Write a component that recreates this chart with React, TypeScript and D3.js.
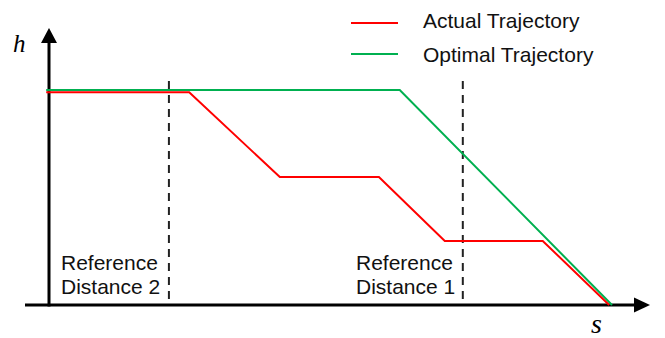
import React from "react";
import * as d3 from "d3";

const W = 665;
const H = 338;

// trajectory data (s, h) in arbitrary units
const actualS = [-0.05, 2.49, 4.1, 5.86, 7.03, 8.77, 9.95];
const actualH = [9.9, 9.9, 5.95, 5.95, 2.98, 2.98, 0];
const optimalS = [-0.05, 6.23, 10];
const optimalH = [10, 10, 0];
const refDistances = [2.13, 7.35];
const refLabels = [["Reference", "Distance 2"], ["Reference", "Distance 1"]];
const legendLabels = ["Actual Trajectory", "Optimal Trajectory"];
const seriesColors = ["#ff0000", "#00b050"];

export default function App() {
  const x = d3.scaleLinear().domain([0, 10]).range([49, 612]);
  const y = d3.scaleLinear().domain([0, 10]).range([305, 90]);
  const line = d3
    .line<[number, number]>()
    .x((d) => x(d[0]))
    .y((d) => y(d[1]));
  const actual = actualS.map((s, i) => [s, actualH[i]] as [number, number]);
  const optimal = optimalS.map((s, i) => [s, optimalH[i]] as [number, number]);
  const font = "'Liberation Sans', Arial, sans-serif";
  const serif = "'Liberation Serif', 'Times New Roman', serif";
  return (
    <svg width={W} height={H} style={{ position: "absolute", left: 0, top: 0 }}>
      <rect width={W} height={H} fill="#fff" />
      {/* axes */}
      <line x1={25} y1={y(0)} x2={636} y2={y(0)} stroke="#000" strokeWidth={3} />
      <path d={`M650,${y(0)} L634,${y(0) - 7.5} L634,${y(0) + 7.5} Z`} fill="#000" />
      <line x1={x(0)} y1={y(0) + 1.5} x2={x(0)} y2={42} stroke="#000" strokeWidth={3} />
      <path d={`M${x(0)},28 L${x(0) - 8},43 L${x(0) + 8},43 Z`} fill="#000" />
      {/* reference dashed lines */}
      {refDistances.map((r, i) => (
        <line
          key={i}
          x1={x(r)}
          x2={x(r)}
          y1={81}
          y2={299}
          stroke="#222"
          strokeWidth={2}
          strokeDasharray="8,6"
        />
      ))}
      {/* trajectories */}
      <path d={line(optimal) || ""} fill="none" stroke={seriesColors[1]} strokeWidth={2} />
      <path d={line(actual) || ""} fill="none" stroke={seriesColors[0]} strokeWidth={2} />
      {/* reference labels */}
      {refLabels.map((lab, i) => (
        <text key={i} fontFamily={font} fontSize={21} fill="#111">
          <tspan x={i === 0 ? 61 : 356} y={270}>{lab[0]}</tspan>
          <tspan x={i === 0 ? 61 : 356} y={294}>{lab[1]}</tspan>
        </text>
      ))}
      {/* legend */}
      {legendLabels.map((lab, i) => (
        <g key={lab}>
          <line x1={351} x2={398} y1={23 + i * 31} y2={23 + i * 31} stroke={seriesColors[i]} strokeWidth={2} />
          <text x={423} y={28 + i * 33.5} fontFamily={font} fontSize={21} fill="#111">
            {lab}
          </text>
        </g>
      ))}
      {/* axis labels */}
      <text x={13} y={52} fontFamily={serif} fontStyle="italic" fontSize={25}>
        h
      </text>
      <text x={591} y={333} fontFamily={serif} fontStyle="italic" fontSize={28}>
        s
      </text>
    </svg>
  );
}
